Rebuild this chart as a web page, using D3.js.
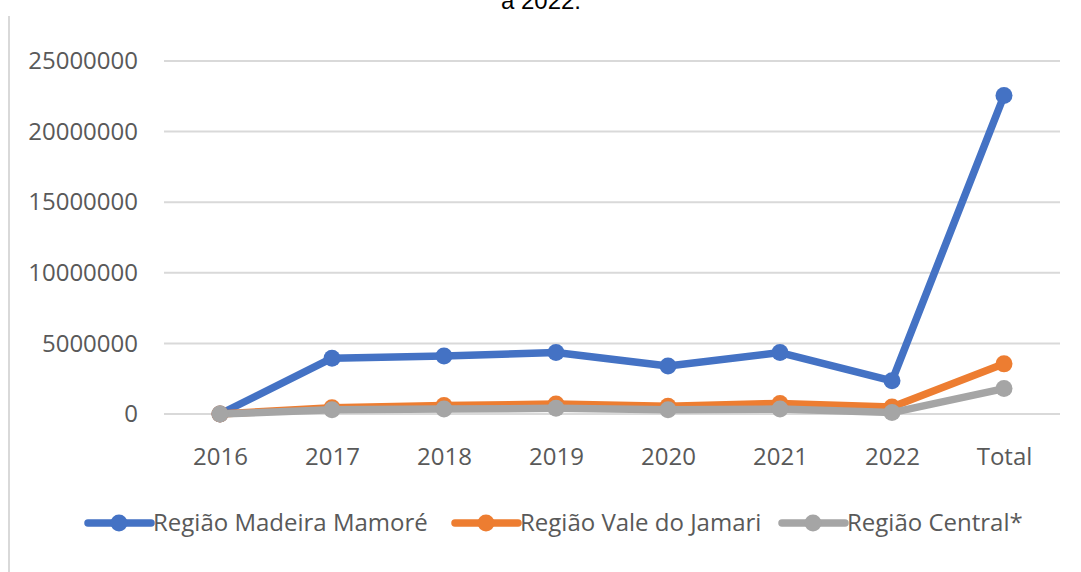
<!DOCTYPE html>
<html>
<head>
<meta charset="utf-8">
<script src="https://cdn.jsdelivr.net/npm/d3@7"></script>
<style>
  body { margin: 0; background: #fff; }
  svg text { font-family: "Open Sans", "Liberation Sans", sans-serif; }
</style>
</head>
<body>
<div id="chart"></div>
<script>
// data
var categories = ["2016", "2017", "2018", "2019", "2020", "2021", "2022", "Total"];
var madeiraMamore = [0, 3950000, 4100000, 4350000, 3400000, 4350000, 2350000, 22550000];
var valeJamari = [0, 450000, 600000, 700000, 550000, 750000, 500000, 3550000];
var central = [0, 300000, 350000, 400000, 300000, 350000, 100000, 1800000];
var yTicks = [0, 5000000, 10000000, 15000000, 20000000, 25000000];

var seriesNames = ["Região Madeira Mamoré", "Região Vale do Jamari", "Região Central*"];
var seriesColors = ["#4472C4", "#ED7D31", "#A5A5A5"];
var seriesValues = [madeiraMamore, valeJamari, central];

var svg = d3.select("#chart")
        .append("svg")
        .attr("width", 1081)
        .attr("height", 572);

var x = d3.scalePoint()
    .domain(categories)
    .range([164, 1060])
    .padding(0.5);

var y = d3.scaleLinear()
    .domain([0, 25000000])
    .range([414, 61]);

// title from the page above, cut off at the top edge as in the source
svg.append("text")
    .attr("x", 541)
    .attr("y", 9)
    .attr("text-anchor", "middle")
    .style("font-family", "Liberation Sans, Arial, sans-serif")
    .style("font-size", "24px")
    .attr("fill", "#000")
    .text("a 2022.");

// left frame line
svg.append("line")
    .attr("x1", 9).attr("x2", 9)
    .attr("y1", 16).attr("y2", 572)
    .attr("stroke", "#d9d9d9")
    .attr("stroke-width", 2);

// gridlines
svg.append("g")
    .selectAll("line")
    .data(yTicks)
  .enter().append("line")
    .attr("x1", 164)
    .attr("x2", 1060)
    .attr("y1", function(d) { return y(d); })
    .attr("y2", function(d) { return y(d); })
    .attr("stroke", "#d9d9d9")
    .attr("stroke-width", 2);

// y axis labels
var yAxis = svg.append("g")
    .attr("transform", "translate(138,0)")
    .call(d3.axisLeft(y).tickValues(yTicks).tickSize(0).tickPadding(0).tickFormat(d3.format("d")));
yAxis.select(".domain").remove();
yAxis.selectAll("text")
    .style("font-size", "24px")
    .attr("fill", "#595959");

// x axis labels
var xAxis = svg.append("g")
    .attr("transform", "translate(0,448)")
    .call(d3.axisBottom(x).tickSize(0).tickPadding(0));
xAxis.select(".domain").remove();
xAxis.selectAll("text")
    .style("font-size", "24px")
    .attr("fill", "#595959");

var line = d3.line()
    .x(function(d, i) { return x(categories[i]); })
    .y(function(d) { return y(d); });

seriesValues.forEach(function(vals, s) {
  var g = svg.append("g");
  g.append("path")
      .datum(vals)
      .attr("d", line)
      .attr("fill", "none")
      .attr("stroke", seriesColors[s])
      .attr("stroke-width", 7.5)
      .attr("stroke-linejoin", "round");
  g.selectAll("circle")
      .data(vals)
    .enter().append("circle")
      .attr("cx", function(d, i) { return x(categories[i]); })
      .attr("cy", function(d) { return y(d); })
      .attr("r", 8.5)
      .attr("fill", seriesColors[s]);
});

// legend
var legendX = [88, 455, 782];
var legend = svg.append("g")
    .selectAll("g")
    .data(seriesNames)
  .enter().append("g")
    .attr("transform", function(d, i) { return "translate(" + legendX[i] + ",523)"; });

legend.append("line")
    .attr("x1", 0).attr("x2", 63)
    .attr("y1", 0).attr("y2", 0)
    .attr("stroke", function(d, i) { return seriesColors[i]; })
    .attr("stroke-width", 7.5)
    .attr("stroke-linecap", "round");

legend.append("circle")
    .attr("cx", 31)
    .attr("cy", 0)
    .attr("r", 8.5)
    .attr("fill", function(d, i) { return seriesColors[i]; });

legend.append("text")
    .attr("x", 65)
    .attr("y", 0)
    .attr("dy", "0.35em")
    .style("font-size", "24px")
    .attr("fill", "#595959")
    .text(function(d) { return d; });
</script>
</body>
</html>
